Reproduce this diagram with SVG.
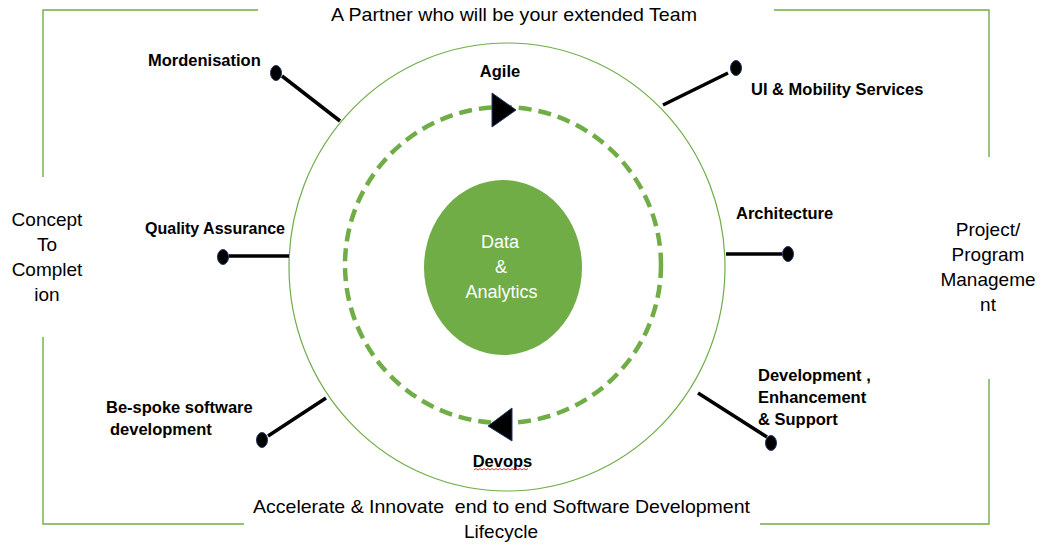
<svg xmlns="http://www.w3.org/2000/svg" width="1047" height="545" viewBox="0 0 1047 545">
  <style>
    .frame { fill: none; stroke: #70AD47; stroke-width: 1.4; }
    .ring { fill: none; stroke: #70AD47; stroke-width: 1.2; }
    .dash { fill: none; stroke: #70AD47; stroke-width: 4.5; stroke-dasharray: 13 7; }
    .spoke { stroke: #000; stroke-width: 3.5; stroke-linecap: butt; }
    .dot { fill: #000; stroke: #1F3864; stroke-width: 1; }
    .arrow { fill: #000; stroke: #1F3864; stroke-width: 1; }
    .lbl { font-family: "Liberation Sans", Arial, sans-serif; font-weight: bold; font-size: 16.5px; fill: #000; }
    .txt { font-family: "Liberation Sans", Arial, sans-serif; font-size: 19px; fill: #000; }
    .core { font-family: "Liberation Sans", Arial, sans-serif; font-size: 18px; fill: #fff; text-anchor: middle; }
  </style>
  <rect width="1047" height="545" fill="#fff"/>

  <g id="frame">
    <polyline class="frame" points="258,10 43,10 43,177"/>
    <polyline class="frame" points="43,337 43,524 244,524"/>
    <polyline class="frame" points="774,10 989,10 989,157"/>
    <polyline class="frame" points="989,379 989,524 760,524"/>
  </g>

  <g id="ring">
    <ellipse class="ring" cx="507" cy="267" rx="218" ry="224"/>
    <circle class="dash" cx="503" cy="265" r="158"/>
  </g>

  <g id="connectors">
    <line class="spoke" x1="282" y1="76" x2="340" y2="121"/>
    <line class="spoke" x1="728" y1="73" x2="663" y2="105"/>
    <line class="spoke" x1="229" y1="256" x2="289" y2="256"/>
    <line class="spoke" x1="726" y1="254" x2="782" y2="254"/>
    <line class="spoke" x1="268" y1="436" x2="326" y2="398"/>
    <line class="spoke" x1="698" y1="393" x2="767" y2="437"/>
    <polygon class="arrow" points="492,93 516,110 492,127"/>
    <polygon class="arrow" points="488,426 512,408 512,441"/>
  </g>

  <g id="core">
    <ellipse cx="503" cy="267.5" rx="79" ry="87.5" fill="#70AD47"/>
    <text class="core" x="500" y="248">Data</text>
    <text class="core" x="501" y="273">&amp;</text>
    <text class="core" x="501.5" y="298">Analytics</text>
  </g>

  <g id="node-agile">
    <text class="lbl" x="500" y="77" text-anchor="middle">Agile</text>
  </g>

  <g id="node-devops">
    <text class="lbl" x="502.5" y="467" text-anchor="middle">Devops</text>
    <path d="M474,470 l2,-1.5 l2,1.5 l2,-1.5 l2,1.5 l2,-1.5 l2,1.5 l2,-1.5 l2,1.5 l2,-1.5 l2,1.5 l2,-1.5 l2,1.5 l2,-1.5 l2,1.5 l2,-1.5 l2,1.5 l2,-1.5 l2,1.5 l2,-1.5 l2,1.5 l2,-1.5 l2,1.5 l2,-1.5 l2,1.5 l2,-1.5 l2,1.5 l2,-1.5" fill="none" stroke="#e02020" stroke-width="0.9"/>
  </g>

  <g id="node-mordenisation">
    <ellipse class="dot" cx="276" cy="73" rx="5.5" ry="7.5"/>
    <text class="lbl" x="148" y="66">Mordenisation</text>
  </g>

  <g id="node-ui">
    <ellipse class="dot" cx="736" cy="68" rx="5.5" ry="7.5"/>
    <text class="lbl" x="751" y="95">UI &amp; Mobility Services</text>
  </g>

  <g id="node-qa">
    <ellipse class="dot" cx="223" cy="257" rx="5.5" ry="7.5"/>
    <text class="lbl" x="145" y="234" textLength="140" lengthAdjust="spacingAndGlyphs">Quality Assurance</text>
  </g>

  <g id="node-architecture">
    <ellipse class="dot" cx="788" cy="254" rx="5.5" ry="7.5"/>
    <text class="lbl" x="736" y="219">Architecture</text>
  </g>

  <g id="node-bespoke">
    <ellipse class="dot" cx="262" cy="440" rx="5.5" ry="7.5"/>
    <text class="lbl" x="106" y="413">Be-spoke software</text>
    <text class="lbl" x="110" y="435">development</text>
  </g>

  <g id="node-development">
    <ellipse class="dot" cx="771" cy="443" rx="5.5" ry="7.5"/>
    <text class="lbl" x="758" y="381">Development ,</text>
    <text class="lbl" x="758" y="403">Enhancement</text>
    <text class="lbl" x="758" y="425">&amp; Support</text>
  </g>

  <g id="top-title">
    <text class="txt" x="331" y="21" textLength="366" lengthAdjust="spacingAndGlyphs">A Partner who will be your extended Team</text>
  </g>

  <g id="bottom-title">
    <text class="txt" x="253" y="513" textLength="497" lengthAdjust="spacingAndGlyphs" xml:space="preserve">Accelerate &amp; Innovate  end to end Software Development</text>
    <text class="txt" x="501" y="538" text-anchor="middle">Lifecycle</text>
  </g>

  <g id="left-title" text-anchor="middle">
    <text class="txt" x="47" y="226">Concept</text>
    <text class="txt" x="47" y="251">To</text>
    <text class="txt" x="47" y="276">Complet</text>
    <text class="txt" x="47" y="301">ion</text>
  </g>

  <g id="right-title" text-anchor="middle">
    <text class="txt" x="988" y="236">Project/</text>
    <text class="txt" x="988" y="261">Program</text>
    <text class="txt" x="988" y="286">Manageme</text>
    <text class="txt" x="988" y="311">nt</text>
  </g>
</svg>
